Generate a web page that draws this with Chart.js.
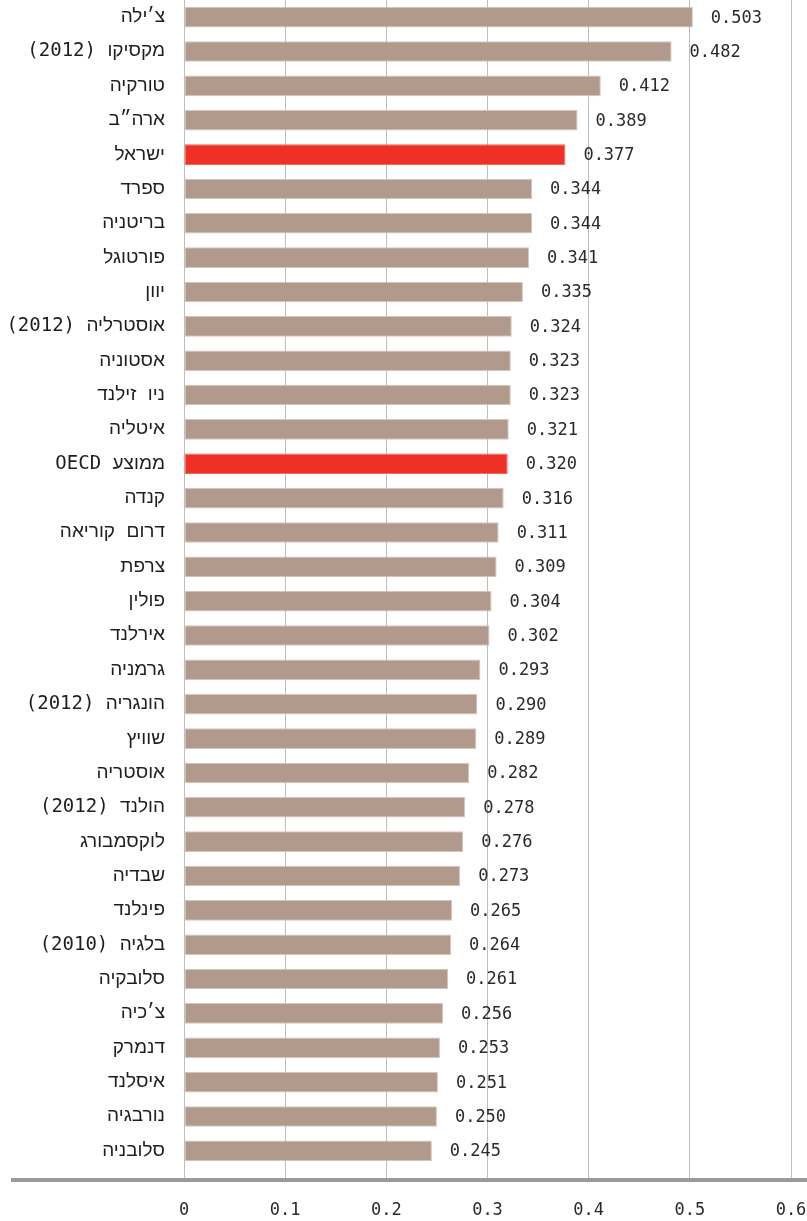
<!DOCTYPE html>
<html lang="he">
<head>
<meta charset="utf-8">
<script src="https://cdn.jsdelivr.net/npm/chart.js@4.4.1/dist/chart.umd.min.js"></script>
<style>
    html, body { margin: 0; padding: 0; background: #fff; }
    #wrap { width: 807px; height: 1221px; }
</style>
</head>
<body>
<div id="wrap"><canvas id="giniChart" dir="rtl"></canvas></div>
<script>
// countries, top to bottom
const countries = [
    'צ׳ילה', 'מקסיקו (2012)', 'טורקיה', 'ארה״ב', 'ישראל', 'ספרד', 'בריטניה', 'פורטוגל',
    'יוון', 'אוסטרליה (2012)', 'אסטוניה', 'ניו זילנד', 'איטליה', 'ממוצע OECD', 'קנדה',
    'דרום קוריאה', 'צרפת', 'פולין', 'אירלנד', 'גרמניה', 'הונגריה (2012)', 'שוויץ',
    'אוסטריה', 'הולנד (2012)', 'לוקסמבורג', 'שבדיה', 'פינלנד', 'בלגיה (2010)', 'סלובקיה',
    'צ׳כיה', 'דנמרק', 'איסלנד', 'נורבגיה', 'סלובניה'
];
const giniValues = [
    0.503, 0.482, 0.412, 0.389, 0.377, 0.344, 0.344, 0.341,
    0.335, 0.324, 0.323, 0.323, 0.321, 0.320, 0.316,
    0.311, 0.309, 0.304, 0.302, 0.293, 0.290, 0.289,
    0.282, 0.278, 0.276, 0.273, 0.265, 0.264, 0.261,
    0.256, 0.253, 0.251, 0.250, 0.245
];
const highlighted = ['ישראל', 'ממוצע OECD'];
const xTicks = [0, 0.1, 0.2, 0.3, 0.4, 0.5, 0.6];

const BAR_COLOR = '#b19a8b';
const RED = '#ee3124';

// value labels at the end of each bar
const valueLabels = {
    id: 'valueLabels',
    afterDatasetsDraw(chart) {
        const ctx = chart.ctx;
        const meta = chart.getDatasetMeta(0);
        ctx.save();
        ctx.font = '17px "DejaVu Sans Mono", monospace';
        ctx.fillStyle = '#2a2a2a';
        ctx.textAlign = 'left';
        ctx.textBaseline = 'middle';
        ctx.direction = 'ltr';
        meta.data.forEach((bar, i) => {
            ctx.fillText(giniValues[i].toFixed(3), bar.x + 18, bar.y + 1);
        });
        ctx.restore();
    }
};

// thick grey base line under the plot, running to the left edge
const baseLine = {
    id: 'baseLine',
    afterDraw(chart) {
        const ctx = chart.ctx;
        const y = chart.chartArea.bottom + 12;
        ctx.save();
        ctx.strokeStyle = '#9a9a9a';
        ctx.lineWidth = 4;
        ctx.beginPath();
        ctx.moveTo(11, y);
        ctx.lineTo(chart.width, y);
        ctx.stroke();
        ctx.restore();
    }
};

const ctx = document.getElementById('giniChart').getContext('2d');
new Chart(ctx, {
    type: 'bar',
    data: {
        labels: countries,
        datasets: [{
            data: giniValues,
            backgroundColor: countries.map(c => highlighted.includes(c) ? RED : BAR_COLOR),
            borderColor: countries.map(c => highlighted.includes(c) ? '#f36a5e' : '#d3c6bd'),
            borderWidth: 1,
            borderSkipped: false,
            barPercentage: 0.6,
            categoryPercentage: 1
        }]
    },
    options: {
        indexAxis: 'y',
        responsive: true,
        maintainAspectRatio: false,
        animation: false,
        layout: { padding: { left: 0, right: 16, top: 0, bottom: 0 } },
        plugins: {
            legend: { display: false },
            tooltip: { enabled: false }
        },
        scales: {
            x: {
                min: 0,
                max: 0.6,
                afterFit: (scale) => {
                    scale.height = 53;
                    scale.paddingLeft = 0;
                    scale.paddingRight = 0;
                },
                afterBuildTicks: (scale) => { scale.ticks = xTicks.map(v => ({ value: v })); },
                grid: {
                    color: '#bdbdbd',
                    lineWidth: 1,
                    drawTicks: true,
                    tickLength: 12,
                    tickColor: '#bdbdbd'
                },
                border: { display: false },
                ticks: {
                    padding: 20,
                    color: '#2a2a2a',
                    font: { family: '"DejaVu Sans Mono", monospace', size: 17 },
                    callback: (v) => String(v)
                }
            },
            y: {
                afterFit: (scale) => {
                    scale.width = 184;
                    scale.paddingTop = 0;
                    scale.paddingBottom = 0;
                },
                grid: { display: false, drawTicks: false },
                border: { display: false },
                ticks: {
                    padding: 19,
                    color: '#1e1e1e',
                    font: { family: '"DejaVu Sans Mono", "Liberation Sans", sans-serif', size: 19 }
                }
            }
        }
    },
    plugins: [valueLabels, baseLine]
});
</script>
</body>
</html>
